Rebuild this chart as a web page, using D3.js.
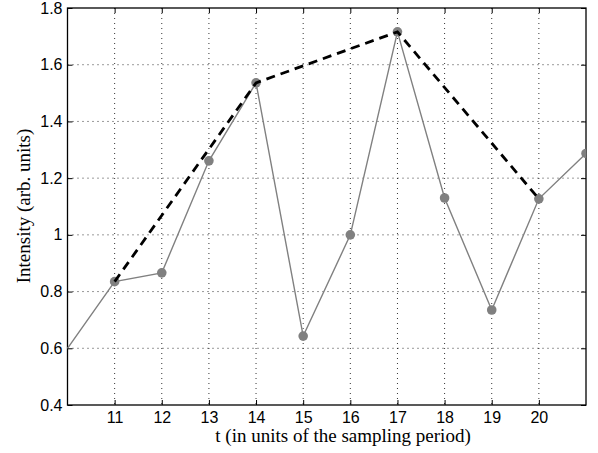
<!DOCTYPE html>
<html><head><meta charset="utf-8">
<script src="https://cdn.jsdelivr.net/npm/d3@7"></script>
<style>body{margin:0;background:#fff}svg{display:block}</style>
</head><body>
<svg id="c" width="598" height="453"></svg>
<script>
const tValues = [10, 11, 12, 13, 14, 15, 16, 17, 18, 19, 20, 21];
const intensity = [0.6, 0.835, 0.866, 1.261, 1.536, 0.643, 1.0, 1.716, 1.13, 0.735, 1.127, 1.287];
const envelopeT = [11, 14, 17, 20];
const envelopeI = [0.835, 1.536, 1.716, 1.127];
const xTicks = [11, 12, 13, 14, 15, 16, 17, 18, 19, 20];
const yTicks = [0.4, 0.6, 0.8, 1.0, 1.2, 1.4, 1.6, 1.8];
const xLabel = "t (in units of the sampling period)";
const yLabel = "Intensity (arb. units)";

const svg = d3.select("#c");
const L = 67.5, R = 586, T = 8, B = 405;
const x = d3.scaleLinear().domain([10, 21]).range([L, R]);
const y = d3.scaleLinear().domain([0.4, 1.8]).range([B, T]);

const g = svg.append("g");
// grid
g.selectAll(".gx").data(xTicks).join("line")
  .attr("x1", d => x(d)).attr("x2", d => x(d)).attr("y1", T).attr("y2", B)
  .attr("stroke", "#000").attr("stroke-width", 0.8).attr("stroke-dasharray", "1,4");
g.selectAll(".gy").data(yTicks.slice(1, -1)).join("line")
  .attr("x1", L).attr("x2", R).attr("y1", d => y(d)).attr("y2", d => y(d))
  .attr("stroke", "#000").attr("stroke-width", 0.8).attr("stroke-dasharray", "1,4");

// axes
const fmt = d => d === 1 ? "1" : d3.format(".1f")(d);
const ax = g.append("g").attr("transform", `translate(0,${B})`)
  .call(d3.axisBottom(x).tickValues(xTicks).tickSize(-5).tickPadding(7));
const axT = g.append("g").attr("transform", `translate(0,${T})`)
  .call(d3.axisTop(x).tickValues(xTicks).tickSize(-5).tickFormat(""));
const ay = g.append("g").attr("transform", `translate(${L},0)`)
  .call(d3.axisLeft(y).tickValues(yTicks).tickSize(-5).tickPadding(5).tickFormat(fmt));
const ayR = g.append("g").attr("transform", `translate(${R},0)`)
  .call(d3.axisRight(y).tickValues(yTicks).tickSize(-5).tickFormat(""));
[ax, axT, ay, ayR].forEach(a => {
  a.select(".domain").remove();
  a.selectAll("line").attr("stroke", "#000").attr("stroke-width", 1);
  a.selectAll("text").attr("font-family", "Liberation Sans, Arial, sans-serif")
    .attr("font-size", 16).attr("fill", "#000");
});
g.append("rect").attr("x", L).attr("y", T).attr("width", R - L).attr("height", B - T)
  .attr("fill", "none").attr("stroke", "#000").attr("stroke-width", 1.3);

// data
svg.append("clipPath").attr("id", "cp").append("rect")
  .attr("x", L).attr("y", T).attr("width", R - L).attr("height", B - T);
const data = tValues.map((t, i) => [t, intensity[i]]);
const line = d3.line().x(d => x(d[0])).y(d => y(d[1]));
svg.append("path").datum(data).attr("d", line).attr("fill", "none")
  .attr("stroke", "#808080").attr("stroke-width", 1.4);
svg.append("g").attr("clip-path", "url(#cp)").selectAll("circle").data(data.slice(1)).join("circle")
  .attr("cx", d => x(d[0])).attr("cy", d => y(d[1])).attr("r", 4.8).attr("fill", "#808080");
const env = envelopeT.map((t, i) => [t, envelopeI[i]]);
svg.append("path").datum(env).attr("d", line).attr("fill", "none")
  .attr("stroke", "#000").attr("stroke-width", 2.8).attr("stroke-dasharray", "9,6");

// labels
svg.append("text").attr("x", 343).attr("y", 442).attr("text-anchor", "middle")
  .attr("font-family", "Liberation Serif, Times New Roman, serif").attr("font-size", 19).text(xLabel);
svg.append("text").attr("transform", `translate(30,206) rotate(-90)`).attr("text-anchor", "middle")
  .attr("font-family", "Liberation Serif, Times New Roman, serif").attr("font-size", 19).text(yLabel);
</script>
</body></html>
